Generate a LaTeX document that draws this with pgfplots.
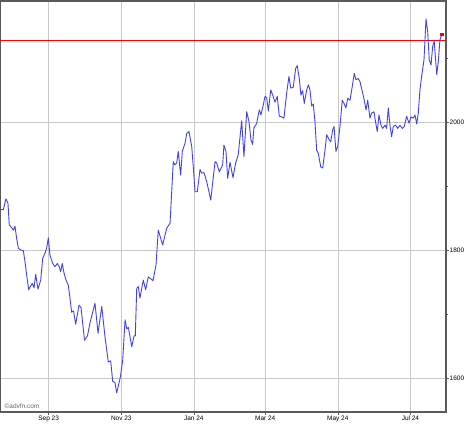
\documentclass[border=0pt]{standalone}
\usepackage{fontspec}
\setmainfont{Liberation Sans}
\usepackage{pgfplots}
\pgfplotsset{compat=1.18}
\definecolor{priceblue}{RGB}{66,66,225}
\definecolor{framegray}{RGB}{90,90,90}
\definecolor{gridgray}{RGB}{200,200,200}

\begin{document}
\begin{tikzpicture}
\path[use as bounding box] (0,0) rectangle (474bp,424bp);
\begin{axis}[
    at={(0,12bp)}, anchor=south west,
    width=446bp, height=411bp, scale only axis,
    xmin=-40.9, xmax=333.9,
    ymin=1548, ymax=2190,
    axis line style={draw=framegray, line width=1.1pt},
    xtick={0,61,122,182,243,304},
    xticklabels={Sep 23,Nov 23,Jan 24,Mar 24,May 24,Jul 24},
    xtick pos=bottom,
    ytick={1600,1800,2000},
    minor ytick={1700,1900,2100},
    ytick pos=right,
    yticklabel pos=right,
    grid=major,
    major grid style={gridgray, line width=0.6pt},
    tick align=outside,
    major tick length=3bp,
    minor tick length=1.5bp,
    tick style={framegray, line width=0.6pt},
    ticklabel style={font=\fontsize{6.5}{7}\selectfont, inner sep=1bp},
    /pgf/number format/assume math mode=true,
    /pgf/number format/1000 sep={},
    yticklabel style={xshift=-0.5bp},
    xticklabel style={yshift=0.5bp},
]
% reference level
\addplot[red, line width=0.6pt] coordinates {(-40.9,2128) (333.9,2128)};

% closing prices, days from 1 Sep 2023
\addplot[priceblue, line width=0.9pt, line join=round] coordinates {
(-40.9,1864) (-38.1,1864) (-35.9,1881) (-34.2,1874) (-33.1,1840) (-31.1,1836)
(-29.7,1832) (-28.3,1838) (-26.9,1819) (-25.5,1804) (-23.5,1801) (-21.3,1800)
(-19.9,1783) (-18.5,1762) (-16.8,1739) (-15.1,1745) (-13.8,1749) (-12.3,1742)
(-10.9,1763) (-9.0,1740) (-6.7,1754) (-5.0,1788) (-3.1,1796) (-1.7,1804)
(-0.3,1820) (1.1,1793) (3.4,1780) (5.3,1775) (7.2,1780) (8.9,1775)
(10.1,1767) (11.4,1780) (12.9,1765) (14.6,1754) (16.5,1746) (17.9,1726)
(19.3,1704) (20.9,1706) (22.7,1685) (25.5,1715) (27.2,1711) (30.1,1660)
(32.6,1667) (34.7,1687) (38.9,1718) (41.5,1671) (44.6,1713) (47.3,1666)
(50.1,1626) (52.1,1628) (53.8,1596) (55.7,1594) (57.2,1578) (60.3,1603)
(62.2,1629) (64.2,1692) (65.6,1678) (67.0,1680) (69.8,1650) (71.8,1667)
(72.8,1667) (74.0,1741) (75.3,1744) (76.7,1726) (79.5,1754) (81.5,1739)
(83.7,1759) (86.6,1755) (87.7,1753) (90.2,1778) (92.1,1832) (95.8,1809)
(99.2,1835) (102.0,1843) (104.7,1939) (106.1,1934) (107.6,1937) (108.9,1955)
(110.9,1918) (112.3,1955) (114.6,1968) (116.0,1983) (117.9,1986) (120.2,1963)
(121.6,1929) (123.0,1892) (124.9,1892) (127.2,1927) (128.6,1921) (130.5,1922)
(132.8,1908) (136.2,1879) (139.8,1939) (141.2,1937) (143.4,1923) (146.2,1934)
(147.3,1965) (149.0,1955) (150.4,1913) (152.4,1938) (154.9,1914) (157.0,1936)
(159.3,1950) (162.2,2003) (164.1,1947) (166.4,2017) (168.3,2002) (170.0,1973)
(171.4,1966) (172.5,1992) (174.8,1999) (177.0,2020) (178.4,2012) (180.4,2028)
(181.8,2041) (183.2,2039) (184.6,2018) (186.6,2051) (188.3,2043) (190.2,2032)
(192.1,2041) (193.8,2010) (195.8,2009) (197.7,2007) (200.0,2046) (201.9,2072)
(203.4,2054) (205.5,2055) (207.6,2085) (208.9,2089) (210.6,2069) (212.0,2043)
(213.4,2050) (214.8,2030) (216.8,2051) (218.3,2059) (219.6,2051) (221.0,2026)
(222.4,2029) (223.8,2001) (225.2,1957) (226.6,1952) (228.6,1931) (230.3,1929)
(232.2,1957) (233.6,1981) (235.8,1973) (237.0,1970) (238.7,1989) (239.8,1994)
(241.4,1955) (242.9,1963) (244.8,1994) (246.7,2035) (248.2,2030) (249.8,2023)
(251.3,2038) (253.2,2035) (255.1,2056) (256.8,2077) (258.2,2067) (260.2,2069)
(261.6,2064) (263.9,2046) (265.2,2035) (266.7,2020) (268.1,2035) (270.0,2007)
(271.4,2015) (273.4,2017) (274.2,2007) (276.1,1986) (277.6,2012) (279.3,1996)
(280.7,1991) (282.6,1996) (284.0,1991) (285.4,2023) (286.8,1996) (288.2,1978)
(289.6,1994) (291.6,1996) (293.3,1991) (295.2,1996) (297.2,1991) (298.8,1994)
(300.8,2010) (302.8,1999) (304.5,2009) (306.4,2007) (307.8,2012) (309.3,1998)
(310.6,2015) (312.0,2051) (313.4,2072) (315.4,2098) (317.1,2162) (318.5,2142)
(319.8,2098) (321.3,2090) (322.7,2119) (324.0,2127) (326.1,2075) (327.4,2095)
(328.8,2129) (330.3,2138)
};

% last price marker
\addplot[only marks, mark=square*, mark size=1.1pt, red] coordinates {(330.3,2138)};

\node[anchor=base west, inner sep=0pt, text=black!60,
      font=\fontsize{6.5}{7}\selectfont] at (rel axis cs:0.01,0.008) {©advfn.com};
\end{axis}
\end{tikzpicture}
\end{document}
